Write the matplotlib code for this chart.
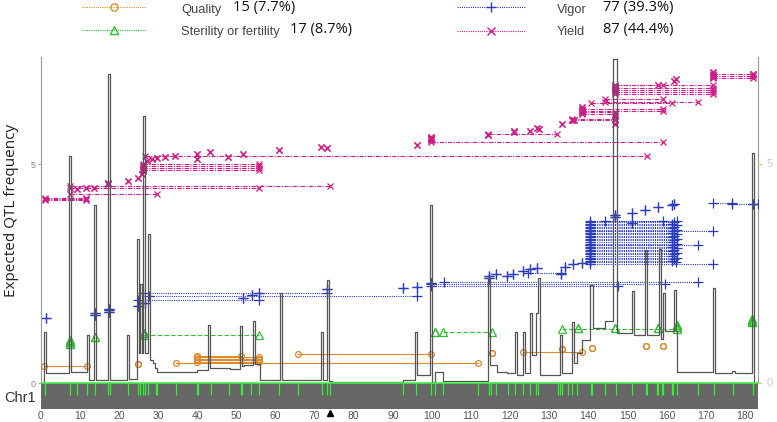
import matplotlib
matplotlib.use("Agg")
import matplotlib.pyplot as plt
from matplotlib.lines import Line2D
from matplotlib.patches import Rectangle

plt.rcParams['font.family'] = ['Liberation Sans', 'DejaVu Sans']

# ---------------- data ----------------
# expected QTL frequency profile (step, 'post')
prof_x = [0, 0.8, 1.3, 7.2, 7.7, 11.8, 12.3, 13.6, 14.1, 17.1, 17.6, 22.0, 22.5, 24.6, 25.1, 25.3,
          25.8, 26.1, 26.6, 27.4, 27.9, 28.6, 29.2, 29.7, 39.9, 42.7, 43.2, 48.3, 50.9, 51.4, 52.0,
          54.2, 54.7, 56.0, 61.1, 61.6, 71.6, 72.1, 73.1, 73.6, 74.4, 92.6, 95.7, 96.2, 99.5, 100.0,
          100.8, 102.8, 114.3, 114.8, 116.6, 119.2, 121.2, 121.7, 123.3, 123.8, 125.1, 125.6, 126.6,
          127.1, 127.6, 132.7, 133.2, 135.8, 136.3, 137.1, 138.4, 140.4, 141.2, 144.2, 146.3, 147.3,
          151.2, 151.7, 154.5, 155.0, 158.1, 158.6, 159.1, 159.6, 161.9, 162.4, 162.7, 171.9, 172.4,
          176.7, 177.5, 181.8, 182.4, 183.4]
prof_y = [0.0, 1.18, 0.23, 5.2, 0.25, 1.09, 0.07, 4.07, 0.07, 7.07, 0.08, 1.09, 0.09, 3.3, 0.68, 2.27,
          0.68, 6.1, 0.68, 3.4, 0.52, 0.45, 0.35, 0.25, 0.3, 1.34, 0.34, 0.32, 1.3, 0.39, 0.41,
          1.41, 0.43, 0.07, 2.07, 0.07, 1.16, 0.07, 2.36, 0.05, 0.03, 0.07, 1.16, 0.18, 4.07, 0.03,
          0.25, 0.05, 2.4, 0.41, 0.25, 0.23, 1.16, 0.18, 1.16, 0.23, 1.6, 0.64, 1.6,
          2.4, 0.18, 1.09, 0.23, 1.39, 0.45, 0.7, 0.98, 2.25, 1.25, 1.43, 7.4, 1.14,
          2.1, 1.09, 3.05, 1.09, 3.07, 1.0, 2.07, 1.2, 2.13, 1.2, 0.25, 2.18, 0.23,
          0.28, 0.23, 5.25, 0.0, 0.0]

# markers on Chr1
marker_pos = [1.0, 7.4, 9.2, 11.8, 13.8, 17.1, 17.6, 22.3, 24.8, 25.3, 26.1, 26.6, 27.4, 29.4, 29.7,
              34.5, 39.9, 40.2, 43.5, 48.1, 51.2, 51.4, 53.7, 55.8, 60.9, 65.7, 71.9, 73.1, 73.9,
              92.6, 95.9, 99.7, 100.8, 102.8, 111.8, 114.6, 115.1, 116.4, 119.4, 121.2, 123.3, 125.1,
              126.6, 127.1, 132.2, 132.7, 133.2, 134.8, 135.8, 137.1, 140.7, 140.9, 144.2, 147.1,
              151.2, 154.7, 155.0, 157.5, 157.8, 158.8, 159.1, 161.4, 161.6, 162.7, 168.0, 172.1,
              177.0, 182.1, 183.4]
centromere = 73.9

# QTLs: start, end, y
quality_start = [0.8, 24.8, 34.5, 40.0, 40.0, 40.0, 40.0, 40.0, 65.7, 115.3, 123.3, 133.2, 141.0, 154.7, 159.1]
quality_end   = [11.8, 24.8, 111.8, 55.7, 55.7, 55.7, 55.7, 51.2, 99.7, 115.3, 138.4, 133.2, 141.0, 154.7, 159.1]
quality_y     = [0.39, 0.43, 0.45, 0.49, 0.53, 0.56, 0.59, 0.62, 0.66, 0.68, 0.71, 0.77, 0.81, 0.84, 0.86]

steril_start = [7.4, 7.4, 7.4, 13.8, 26.3, 26.3, 100.8, 102.8, 133.2, 137.3, 146.8, 157.8, 162.7, 162.7, 181.8, 181.8, 181.8]
steril_end   = [7.4, 7.4, 7.4, 13.8, 55.7, 26.3, 100.8, 115.3, 162.7, 137.3, 146.8, 157.8, 162.7, 162.7, 181.8, 181.8, 181.8]
steril_y     = [0.9, 0.94, 0.98, 1.05, 1.11, 1.14, 1.16, 1.18, 1.23, 1.27, 1.25, 1.27, 1.29, 1.33, 1.39, 1.43, 1.47]

vigor_start = [1.3, 13.8, 13.8, 17.4, 17.4, 17.4, 24.8, 24.8, 26.1, 27.6, 26.6, 51.7, 54.0, 55.7,
               73.1, 92.6, 96.2, 99.7, 99.7, 103.1, 99.7, 114.6, 114.6, 116.4, 119.2, 120.7, 123.3,
               125.1, 126.8, 124.6, 132.9, 134.0, 136.1, 138.4,
               140.4, 140.4, 140.4, 140.4, 140.4, 140.4, 140.4, 140.4, 140.4, 140.4, 140.4, 140.4,
               140.4, 140.4, 140.4, 140.4, 140.4, 140.4, 140.4, 140.4, 140.4, 140.4, 140.4, 140.4,
               140.4, 140.4, 140.4, 140.4, 140.4, 140.4, 140.4,
               144.2, 146.8, 146.8, 151.2, 151.2, 154.5, 157.8, 161.4, 162.0, 171.9, 176.7, 182.0]
vigor_end   = [1.3, 13.8, 13.8, 17.4, 17.4, 17.4, 24.8, 55.7, 73.1, 96.2, 26.6, 51.7, 54.0, 55.7,
               73.1, 92.6, 96.2, 147.5, 159.6, 168.0, 99.7, 114.6, 114.6, 116.4, 119.2, 120.7, 123.3,
               125.1, 126.8, 132.9, 132.9, 134.0, 136.1, 138.4,
               162.5, 161.4, 162.0, 162.7, 161.4, 162.0, 162.7, 161.4, 162.0, 162.7, 161.4, 162.0,
               162.7, 161.4, 162.0, 162.7, 161.4, 162.0, 162.7, 161.4, 162.0, 162.7, 161.4, 162.0,
               162.7, 161.4, 162.0, 171.9, 168.0, 171.9, 162.7,
               159.1, 146.8, 146.8, 151.2, 151.2, 154.5, 157.8, 161.4, 162.0, 176.7, 183.4, 182.0]
vigor_y     = [1.48, 1.55, 1.6, 1.62, 1.66, 1.7, 1.77, 1.91, 2.07, 2.0, 1.82, 1.95, 2.02, 2.07,
               2.14, 2.18, 2.2, 2.22, 2.27, 2.32, 2.28, 2.41, 2.45, 2.5, 2.45, 2.5, 2.57,
               2.61, 2.64, 2.52, 2.5, 2.66, 2.72, 2.75,
               2.77, 2.8, 2.84, 2.87, 2.91, 2.94, 2.98, 3.01, 3.05, 3.08, 3.12, 3.15,
               3.19, 3.22, 3.26, 3.29, 3.33, 3.36, 3.4, 3.43, 3.47, 3.5, 3.54, 3.57,
               3.61, 3.64, 3.67, 2.73, 3.16, 3.48, 3.7,
               3.7, 3.8, 3.84, 3.89, 3.66, 3.95, 4.02, 4.07, 4.09, 4.11, 4.1, 4.1]

yield_start = [1.0, 1.0, 1.0, 7.4, 7.4, 7.4, 9.2, 11.6, 13.6, 17.1, 17.1, 22.3, 24.8, 25.8, 26.1, 26.1,
               26.1, 26.1, 26.1, 26.1, 27.1, 28.4, 29.7, 31.7, 34.3, 39.9, 39.9, 43.2, 47.8, 51.7,
               26.6, 60.9, 71.6, 73.1, 96.2, 99.7, 99.7, 99.7, 99.7, 114.3, 114.3, 121.0, 121.0,
               125.1, 126.8, 127.3, 133.2, 135.8, 136.3,
               135.8, 135.8, 138.4, 138.4, 138.4, 138.4, 140.7, 144.2, 144.2,
               146.8, 146.8, 146.8, 146.8, 146.8, 146.8, 138.4, 138.4, 146.8, 146.8,
               157.8, 161.9, 162.4, 171.9, 171.9, 171.9, 171.9,
               26.1, 26.1, 99.7, 99.7, 146.8, 146.8, 146.8, 138.4, 138.4, 171.9, 171.9, 182.0]
yield_end   = [11.6, 11.6, 11.6, 29.7, 73.9, 55.7, 9.2, 11.6, 13.6, 17.1, 17.1, 22.3, 24.8, 25.8, 26.1, 26.1,
               55.7, 55.7, 55.7, 55.7, 27.1, 28.4, 29.7, 31.7, 34.3, 39.9, 39.9, 43.2, 47.8, 51.7,
               155.0, 60.9, 71.6, 73.1, 96.2, 99.7, 99.7, 99.7, 159.1, 114.3, 132.0, 121.0, 121.0,
               125.1, 126.8, 127.3, 133.2, 135.8, 136.3,
               146.8, 146.8, 146.8, 159.1, 159.1, 146.8, 161.4, 159.1, 168.0,
               171.9, 171.9, 171.9, 171.9, 159.1, 171.9, 138.4, 138.4, 146.8, 146.8,
               157.8, 161.9, 162.4, 182.0, 182.0, 182.0, 171.9,
               26.1, 26.1, 99.7, 99.7, 146.8, 146.8, 146.8, 138.4, 138.4, 171.9, 171.9, 182.0]
yield_y     = [4.18, 4.21, 4.24, 4.31, 4.5, 4.45, 4.43, 4.45, 4.46, 4.55, 4.58, 4.61, 4.68, 4.77, 4.85, 4.89,
               4.88, 4.92, 4.96, 5.0, 5.07, 5.11, 5.14, 5.16, 5.2, 5.23, 5.11, 5.27, 5.16, 5.23,
               5.2, 5.32, 5.39, 5.37, 5.45, 5.55, 5.6, 5.57, 5.5, 5.66, 5.68, 5.73, 5.75,
               5.77, 5.82, 5.8, 5.91, 6.02, 6.0,
               6.0, 6.04, 6.2, 6.27, 6.22, 6.15, 6.39, 6.48, 6.43,
               6.6, 6.65, 6.7, 6.75, 6.82, 6.8, 6.25, 6.3, 5.91, 6.1,
               6.82, 6.91, 6.94, 7.02, 7.06, 6.98, 7.1,
               4.9, 4.95, 5.58, 5.62, 6.68, 6.72, 6.77, 6.18, 6.24, 7.0, 7.04, 7.07]

categories = ["Quality", "Sterility or fertility", "Vigor", "Yield"]
counts = ["15 (7.7%)", "17 (8.7%)", "77 (39.3%)", "87 (44.4%)"]
x_ticks = list(range(0, 181, 10))

# ---------------- styles ----------------
styles = {
    "Quality": dict(color="#DB8A2E", ls="-", marker="o", ms=4.2, lw=0.8),
    "Sterility or fertility": dict(color="#2FC12F", ls=(0, (4, 2)), marker="^", ms=5.2, lw=0.8),
    "Vigor": dict(color="#2B3DBD", ls=(0, (1, 1)), marker="+", ms=6.5, lw=0.8),
    "Yield": dict(color="#D01C88", ls=(0, (4, 1.2, 1, 1.2)), marker="x", ms=4.5, lw=0.8),
}

W, H = 777, 422
fig = plt.figure(figsize=(W / 100, H / 100), dpi=100)
ax_left, ax_right, ax_top, ax_bot = 41, 758, 57, 409
ax = fig.add_axes([ax_left / W, 1 - ax_bot / H, (ax_right - ax_left) / W, (ax_bot - ax_top) / H])
ax.set_xlim(0, 183.4)
ax.set_ylim(-0.59, 7.45)

# profile
ax.step(prof_x, prof_y, where="post", color="#555555", lw=0.9, zorder=3)

# chromosome band
ax.add_patch(Rectangle((0, -0.59), 183.4, 0.59, facecolor="#666666", edgecolor="none", zorder=4))
ax.vlines(marker_pos, -0.28, 0, color="#33EE33", lw=0.9, zorder=5)
ax.plot([0, 183.4], [0, 0], color="#44EE44", lw=1.2, zorder=5)
ax.plot([centromere], [-0.69], marker="^", color="black", ms=5, clip_on=False, zorder=6)

def draw(name, starts, ends, ys):
    st = styles[name]
    for s, e, y in zip(starts, ends, ys):
        if e > s:
            ax.plot([s, e], [y, y], color=st["color"], ls=st["ls"], lw=st["lw"], zorder=2)
        ax.plot([s, e], [y, y], ls="none", marker=st["marker"], ms=st["ms"],
                mec=st["color"], mfc="none", mew=0.9, zorder=2.5)

draw("Quality", quality_start, quality_end, quality_y)
draw("Sterility or fertility", steril_start, steril_end, steril_y)
draw("Vigor", vigor_start, vigor_end, vigor_y)
draw("Yield", yield_start, yield_end, yield_y)

# axes styling
for sp in ["top", "right", "bottom"]:
    ax.spines[sp].set_visible(False)
ax.spines["left"].set_color("#999999")
ax.spines["left"].set_linewidth(0.8)
ax.spines["left"].set_bounds(0, 7.45)
ax.plot([183.4, 183.4], [0, 7.45], color="#999999", lw=0.8, clip_on=False, zorder=1)
ax.set_yticks([0, 5])
ax.set_yticklabels(["0", "5"], fontsize=6.5, color="#888888")
ax.tick_params(axis="y", length=2, width=0.6, color="#999999", pad=2)
ax.set_xticks(x_ticks)
ax.set_xticklabels([str(t) for t in x_ticks], fontsize=7.5, color="#555555")
ax.tick_params(axis="x", length=0, pad=1.5)
for yv, lab in [(0, "0"), (5, "5")]:
    ax.text(186.5, yv, lab, fontsize=8, color="#CCCCCC", ha="center", va="center", clip_on=False)
    ax.plot([183.4, 184.2], [yv, yv], color="#CCCC88", lw=1, clip_on=False)

fig.text(12 / W, 1 - 210 / H, "Expected QTL frequency", rotation=90, fontsize=11,
         ha="center", va="center", color="#222222", family=["Open Sans", "DejaVu Sans"])
fig.text(20 / W, 1 - 398 / H, "Chr1", fontsize=10.5, ha="center", va="center", color="#333333")

# legend
def fpt(x, y):
    return x / W, 1 - y / H

leg = [
    ("Quality", 82, 146, 7, 181, 233, 10),
    ("Sterility or fertility", 82, 146, 30, 181, 290, 32),
    ("Vigor", 457, 525, 7, 557, 603, 10),
    ("Yield", 457, 525, 31, 557, 603, 32),
]
for (name, x0, x1, yl, xt, xn, yt), cnt in zip(leg, counts):
    st = styles[name]
    (a0, b0), (a1, _) = fpt(x0, yl), fpt(x1, yl)
    fig.add_artist(Line2D([a0, a1], [b0, b0], color=st["color"], ls=(0, (1, 1)), lw=0.8,
                          transform=fig.transFigure))
    fig.add_artist(Line2D([(a0 + a1) / 2], [b0], ls="none", marker=st["marker"], ms=st["ms"] + 1,
                          mec=st["color"], mfc="none", mew=1.0, transform=fig.transFigure))
    tx, ty = fpt(xt, yt)
    fig.text(tx, ty, name, fontsize=9.3, color="#444444", ha="left", va="center")
    nx, ny = fpt(xn, yt - 3)
    fig.text(nx, ny, cnt, fontsize=10.5, color="#111111", ha="left", va="center",
             family=["Open Sans", "DejaVu Sans"])

fig.savefig("out.png", dpi=100)
